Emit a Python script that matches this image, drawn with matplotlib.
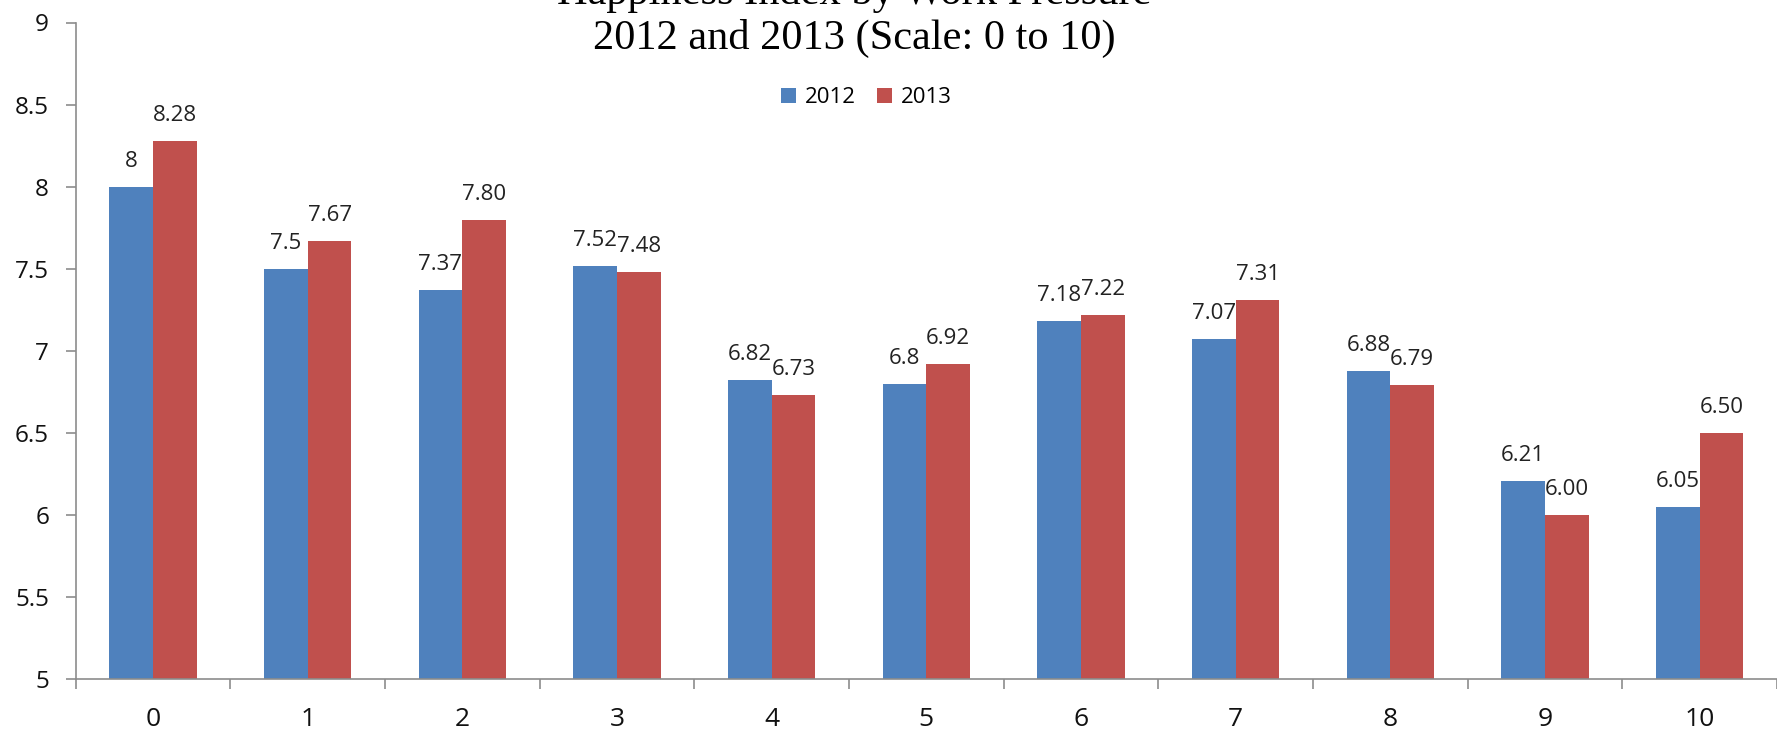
import matplotlib
matplotlib.use("Agg")
import matplotlib.pyplot as plt
import numpy as np

# data
categories = ["0", "1", "2", "3", "4", "5", "6", "7", "8", "9", "10"]
values_2012 = [8.0, 7.5, 7.37, 7.52, 6.82, 6.8, 7.18, 7.07, 6.88, 6.21, 6.05]
values_2013 = [8.28, 7.67, 7.80, 7.48, 6.73, 6.92, 7.22, 7.31, 6.79, 6.00, 6.50]
labels_2012 = ["8", "7.5", "7.37", "7.52", "6.82", "6.8", "7.18", "7.07", "6.88", "6.21", "6.05"]
labels_2013 = ["8.28", "7.67", "7.80", "7.48", "6.73", "6.92", "7.22", "7.31", "6.79", "6.00", "6.50"]
y_ticks = [5, 5.5, 6, 6.5, 7, 7.5, 8, 8.5, 9]
y_ticklabels = ["5", "5.5", "6", "6.5", "7", "7.5", "8", "8.5", "9"]
title_lines = ["Happiness Index by Work Pressure", "2012 and 2013 (Scale: 0 to 10)"]

plt.rcParams["font.family"] = ["Open Sans", "DejaVu Sans"]

W, H = 1777, 730
fig = plt.figure(figsize=(W / 100, H / 100), dpi=100)
ax = fig.add_axes([75.7 / W, 1 - 679.3 / H, (W - 75.7) / W, (679.3 - 22.5) / H])

x = np.arange(len(categories))
bw = 0.283
blue = "#4F81BD"
red = "#C0504D"
b1 = ax.bar(x - bw / 2, values_2012, bw, color=blue, label="2012")
b2 = ax.bar(x + bw / 2, values_2013, bw, color=red, label="2013")

for rects, labs in ((b1, labels_2012), (b2, labels_2013)):
    for r, lab in zip(rects, labs):
        ax.annotate(lab, (r.get_x() + r.get_width() / 2, r.get_height()),
                    xytext=(0, 14.4), textcoords="offset points",
                    ha="center", va="baseline", fontsize=16, color="#222222")

ax.set_ylim(5, 9)
ax.set_xlim(-0.5, -0.5 + (W - 75.7) / 155.3)
ax.set_yticks(y_ticks)
ax.set_yticklabels(y_ticklabels)
ax.set_xticks(x)
ax.set_xticklabels(categories)
ax.set_xticks(np.arange(-0.5, len(categories), 1.0), minor=True)

axis_gray = "#8C8C8C"
for s in ("top", "right"):
    ax.spines[s].set_visible(False)
for s in ("left", "bottom"):
    ax.spines[s].set_color(axis_gray)
    ax.spines[s].set_linewidth(1.2)

ax.tick_params(axis="y", length=7.2, width=1.2, color=axis_gray, pad=12,
               labelsize=17.5, labelcolor="#111111")
ax.tick_params(axis="x", which="major", length=0, pad=20,
               labelsize=19, labelcolor="#111111")
ax.tick_params(axis="x", which="minor", length=7, width=1.2, color=axis_gray)

fig.text(854 / W, 1 - 4 / H, title_lines[0], ha="center", va="baseline",
         fontsize=30.5, family=["Liberation Serif"])
fig.text(854 / W, 1 - 49.3 / H, title_lines[1], ha="center", va="baseline",
         fontsize=30.5, family=["Liberation Serif"])

leg = fig.legend(loc="center", bbox_to_anchor=(866 / W, 1 - 97.5 / H),
                 ncol=2, frameon=False, fontsize=16, handlelength=0.68,
                 handleheight=0.66, handletextpad=0.4, columnspacing=0.95)

fig.savefig("out.png", dpi=100)
